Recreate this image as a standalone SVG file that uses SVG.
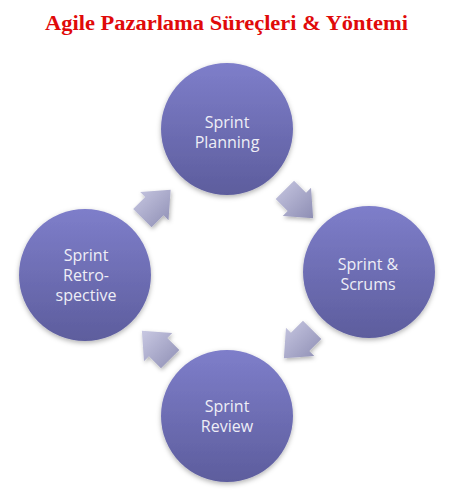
<svg xmlns="http://www.w3.org/2000/svg" width="458" height="504" viewBox="0 0 458 504">
<style>
.title{font-family:"Liberation Serif","Times New Roman",serif;font-weight:bold;font-size:20px;fill:#e00a0a}
.node{fill:url(#cg);filter:url(#cs)}
.lbl{font-family:"Open Sans","Noto Sans",sans-serif;font-size:16px;fill:#eeeef6;text-anchor:middle}
.arr{fill:url(#ag);filter:url(#as)}
</style>
<defs>
<linearGradient id="cg" x1="0" y1="0" x2="0" y2="1">
<stop offset="0" stop-color="#7e7eca"/>
<stop offset="1" stop-color="#5d5d9d"/>
</linearGradient>
<linearGradient id="ag" x1="0" y1="0" x2="1" y2="1">
<stop offset="0" stop-color="#c8c8e2"/>
<stop offset="1" stop-color="#8e8eb4"/>
</linearGradient>
<filter id="cs" x="-20%" y="-20%" width="140%" height="145%">
<feDropShadow dx="0" dy="2" stdDeviation="2.5" flood-color="#000" flood-opacity="0.3"/>
</filter>
<filter id="as" x="-30%" y="-30%" width="160%" height="160%">
<feDropShadow dx="1" dy="2" stdDeviation="2" flood-color="#000" flood-opacity="0.3"/>
</filter>
</defs>
<rect width="458" height="504" fill="#fff"/>
<text class="title" x="45" y="30" textLength="363" lengthAdjust="spacingAndGlyphs">Agile Pazarlama Süreçleri &amp; Yöntemi</text>
<g id="connectors">
<path class="arr" d="M294.05,180.67 L306.07,192.69 L311.02,187.74 L313.14,218.14 L282.74,216.02 L287.69,211.07 L275.67,199.05 Z"/>
<path class="arr" d="M302.95,320.67 L290.93,332.69 L285.98,327.74 L283.86,358.14 L314.26,356.02 L309.31,351.07 L321.33,339.05 Z"/>
<path class="arr" d="M160.95,368.33 L148.93,356.31 L143.98,361.26 L141.86,330.86 L172.26,332.98 L167.31,337.93 L179.33,349.95 Z"/>
<path class="arr" d="M151.55,227.33 L163.57,215.31 L168.52,220.26 L170.64,189.86 L140.24,191.98 L145.19,196.93 L133.17,208.95 Z"/>
</g>
<g id="planning">
<circle class="node" cx="227" cy="129" r="66"/>
<text class="lbl" x="227" y="128">Sprint</text>
<text class="lbl" x="227" y="148">Planning</text>
</g>
<g id="scrums">
<circle class="node" cx="369" cy="272" r="66"/>
<text class="lbl" x="368" y="270">Sprint &amp;</text>
<text class="lbl" x="368" y="290">Scrums</text>
</g>
<g id="review">
<circle class="node" cx="227" cy="416" r="66"/>
<text class="lbl" x="227" y="412">Sprint</text>
<text class="lbl" x="227" y="432">Review</text>
</g>
<g id="retrospective">
<circle class="node" cx="85" cy="275" r="66"/>
<text class="lbl" x="86" y="261">Sprint</text>
<text class="lbl" x="86" y="281">Retro-</text>
<text class="lbl" x="86" y="301">spective</text>
</g>
</svg>
